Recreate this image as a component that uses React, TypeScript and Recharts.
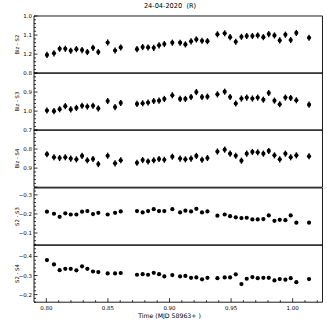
import { ScatterChart, Scatter, XAxis, YAxis, ErrorBar, ReferenceArea } from "recharts";

// time offsets (MJD 58963+)
const times = [
  0.8005, 0.8062, 0.8108, 0.8154, 0.8198, 0.8244, 0.829, 0.8333, 0.8379, 0.8422,
  0.8498, 0.8558, 0.8604,
  0.8736, 0.8782, 0.8826, 0.8872, 0.8915, 0.8958, 0.9023, 0.9086, 0.9129, 0.9175, 0.9218, 0.9264, 0.9308,
  0.9389, 0.9448, 0.9492, 0.9538, 0.9584, 0.9627, 0.9673, 0.9716, 0.9762, 0.9806, 0.9852, 0.9895, 0.9941, 0.9984, 1.003,
  1.0133,
];

const bizS2 = [
  1.204, 1.196, 1.172, 1.172, 1.182, 1.174, 1.179, 1.189, 1.167, 1.189,
  1.139, 1.181, 1.165,
  1.174, 1.163, 1.165, 1.167, 1.154, 1.147, 1.14, 1.14, 1.149, 1.133, 1.123, 1.13, 1.132,
  1.096, 1.091, 1.111, 1.135, 1.109, 1.105, 1.105, 1.102, 1.111, 1.095, 1.102, 1.128, 1.098, 1.126, 1.089,
  1.114,
];

const bizS3 = [
  0.997, 1.0, 0.99, 0.974, 0.991, 0.983, 0.972, 0.976, 0.972, 0.986,
  0.947, 0.979, 0.957,
  0.962, 0.959, 0.955, 0.947, 0.945, 0.936, 0.917, 0.936, 0.936, 0.926, 0.9, 0.926, 0.924,
  0.912, 0.898, 0.926, 0.96, 0.934, 0.929, 0.934, 0.929, 0.94, 0.905, 0.945, 0.964, 0.929, 0.931, 0.943,
  0.966,
];

const bizS4 = [
  0.827, 0.843, 0.847, 0.843, 0.85, 0.854, 0.836, 0.859, 0.852, 0.879,
  0.835, 0.875, 0.859,
  0.872, 0.858, 0.865, 0.859, 0.852, 0.856, 0.84, 0.85, 0.854, 0.85, 0.836, 0.856, 0.847,
  0.813, 0.803, 0.824, 0.835, 0.861, 0.824, 0.815, 0.817, 0.824, 0.81, 0.833, 0.854, 0.824, 0.843, 0.833,
  0.838,
];

const s2s3 = [
  -0.212, -0.201, -0.185, -0.203, -0.197, -0.197, -0.212, -0.215, -0.199, -0.206,
  -0.197, -0.206, -0.213,
  -0.215, -0.208, -0.215, -0.225, -0.215, -0.215, -0.225, -0.208, -0.217, -0.213, -0.227, -0.208, -0.213,
  -0.191, -0.197, -0.188, -0.182, -0.178, -0.18, -0.171, -0.171, -0.173, -0.192, -0.164, -0.169, -0.167, -0.192, -0.154,
  -0.154,
];

const s2s4 = [
  -0.381, -0.358, -0.328, -0.335, -0.335, -0.327, -0.348, -0.335, -0.321, -0.318,
  -0.311, -0.311, -0.313,
  -0.304, -0.307, -0.304, -0.314, -0.307, -0.295, -0.302, -0.295, -0.298, -0.288, -0.29, -0.28, -0.288,
  -0.286, -0.29, -0.29, -0.306, -0.255, -0.283, -0.292, -0.286, -0.288, -0.288, -0.274, -0.281, -0.278, -0.286, -0.265,
  -0.281,
];

const panelLabels = ["Biz - S2", "Biz - S3", "Biz - S4", "S2 - S3", "S2 - S4"];
const panelValues = [bizS2, bizS3, bizS4, s2s3, s2s4];
const panelErrors = [0.016, 0.016, 0.016, 0.004, 0.004];
const yDomains = [
  [1.0, 1.3],
  [0.8, 1.1],
  [0.7, 1.0],
  [-0.336, -0.036],
  [-0.46, -0.16],
];
const yLabelTicks = [
  [1.0, 1.1, 1.2],
  [0.8, 0.9, 1.0],
  [0.7, 0.8, 0.9],
  [-0.3, -0.2, -0.1],
  [-0.4, -0.3, -0.2],
];
const xDomain = [0.79, 1.0242];

const PANEL_TOP = 16;
const PANEL_H = 57.2;
const PAD = 6;
const XAXIS_H = 24;
const FONT = "'DejaVu Sans', sans-serif";

const stepTicks = (lo: number, hi: number, step: number) => {
  const out: number[] = [];
  for (let k = Math.ceil(lo / step - 1e-9); k * step <= hi + 1e-9; k++) out.push(+(k * step).toFixed(3));
  return out;
};

const fmtY = (v: number) => (v < 0 ? "\u2212" + Math.abs(v).toFixed(1) : v.toFixed(1));
const near = (a: number, b: number) => Math.abs(a - b) < 1e-6;

const YTick = (props: any) => {
  const { x, y, payload, labels } = props;
  const v = payload.value;
  const major = near(v * 10, Math.round(v * 10));
  const ax = x + 2;
  const labelled = labels.some((l: number) => near(l, v));
  return (
    <g>
      <line x1={ax} x2={ax + (major ? 3.5 : 2)} y1={y} y2={y} stroke="#000" strokeWidth={0.8} />
      {labelled && (
        <text x={x} y={y} textAnchor="end" dominantBaseline="central" fontSize={5.5} fontFamily={FONT} fill="#000">
          {fmtY(v)}
        </text>
      )}
    </g>
  );
};

const XTick = (props: any) => {
  const { x, y, payload, showLabel } = props;
  const v = payload.value;
  const major = Math.round(v * 100) % 5 === 0;
  const base = y - 2;
  return (
    <g>
      <line x1={x} x2={x} y1={base} y2={base - (major ? 4 : 2)} stroke="#000" strokeWidth={0.8} />
      {showLabel && major && (
        <text x={x} y={base + 5.5} textAnchor="middle" dominantBaseline="central" fontSize={5.5} fontFamily={FONT} fill="#000">
          {v.toFixed(2)}
        </text>
      )}
    </g>
  );
};

const Dot = (p: any) => <circle cx={p.cx} cy={p.cy} r={2.1} fill="#000" />;

const Panel = ({ idx }: { idx: number }) => {
  const last = idx === panelValues.length - 1;
  const rows = times.map((t, i) => ({ t, v: panelValues[idx][i], e: panelErrors[idx] }));
  const dom = yDomains[idx];
  const xTicks = stepTicks(0.8, 1.02, 0.01);
  const yTicks = stepTicks(dom[0], dom[1], 0.02);
  return (
    <div style={{ position: "absolute", left: 0, top: PANEL_TOP + idx * PANEL_H - PAD }}>
      <ScatterChart
        width={327}
        height={PANEL_H + 2 * PAD + (last ? XAXIS_H : 0)}
        margin={{ top: PAD, right: 4.5, bottom: PAD, left: 0 }}
      >
        <XAxis
          type="number"
          dataKey="t"
          domain={xDomain}
          allowDataOverflow
          ticks={xTicks}
          interval={0}
          axisLine={false}
          tickLine={false}
          tickSize={0}
          tickMargin={2}
          height={last ? XAXIS_H : 0}
          tick={(p: any) => <XTick {...p} showLabel={last} />}
        />
        <YAxis
          type="number"
          dataKey="v"
          domain={dom}
          allowDataOverflow
          reversed
          ticks={yTicks}
          interval={0}
          width={34}
          axisLine={false}
          tickLine={false}
          tickSize={0}
          tickMargin={2}
          tick={(p: any) => <YTick {...p} labels={yLabelTicks[idx]} />}
          label={{ value: panelLabels[idx], angle: -90, position: "center", fontSize: 5.3, fill: "#000", fontFamily: FONT }}
        />
        <ReferenceArea
          x1={xDomain[0]}
          x2={xDomain[1]}
          y1={dom[0]}
          y2={dom[1]}
          fill="none"
          stroke="#000"
          strokeWidth={0.9}
          ifOverflow="visible"
        />
        <Scatter data={rows} fill="#000" shape={Dot} isAnimationActive={false}>
          <ErrorBar dataKey="e" direction="y" width={0} stroke="#000" strokeWidth={1.4} />
        </Scatter>
      </ScatterChart>
    </div>
  );
};

export default function App() {
  return (
    <div style={{ position: "absolute", left: 0, top: 0, width: 327, height: 327, background: "#fff", fontFamily: FONT }}>
      <div style={{ position: "absolute", left: 0, width: 340, top: 2, textAlign: "center", fontSize: 6.6, whiteSpace: "pre" }}>
        24-04-2020  (R)
      </div>
      {panelLabels.map((_, i) => (
        <Panel key={i} idx={i} />
      ))}
      <div style={{ position: "absolute", left: 0, width: 339, top: 312, textAlign: "center", fontSize: 6.2, whiteSpace: "pre" }}>
        Time (MJD 58963+ )
      </div>
    </div>
  );
}
